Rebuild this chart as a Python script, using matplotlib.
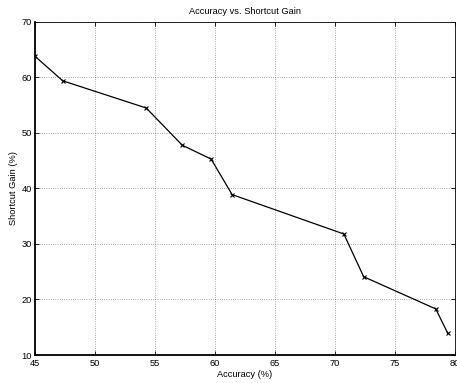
#!/usr/bin/env python3

import matplotlib
matplotlib.use('Agg')
import matplotlib.pyplot as plt

# values
accuracy = [45.0, 47.35, 54.3, 57.3, 59.7, 61.45, 70.75, 72.4, 78.4, 79.4]
shortcut_gain = [63.9, 59.4, 54.5, 47.8, 45.3, 38.9, 31.8, 24.1, 18.3, 13.9]
x_ticks = [45, 50, 55, 60, 65, 70, 75, 80]
y_ticks = [10, 20, 30, 40, 50, 60, 70]


def plot_gain():
    plt.rcParams['font.family'] = ['Liberation Sans', 'DejaVu Sans']
    fs = 6.7

    fig = plt.figure(figsize=(4.57, 3.83), dpi=100)
    ax = fig.add_axes([0.0755, 0.0731, 0.9201, 0.8695])

    ax.plot(accuracy, shortcut_gain, 'k-', marker='x', markersize=3.5,
            linewidth=0.9, markeredgewidth=0.8)

    ax.set_xlim(45, 80)
    ax.set_ylim(10, 70)
    ax.set_xticks(x_ticks)
    ax.set_yticks(y_ticks)
    ax.grid(True, color='k', linestyle=(0, (1, 3)), linewidth=0.4)
    ax.tick_params(direction='in', top=True, right=True, length=3,
                   width=0.6, labelsize=fs)
    ax.tick_params(axis='x', pad=3)
    ax.tick_params(axis='y', pad=2)

    for side in ['top', 'right']:
        ax.spines[side].set_linewidth(0.6)
    for side in ['left', 'bottom']:
        ax.spines[side].set_linewidth(1.3)

    ax.set_title('Accuracy vs. Shortcut Gain', fontsize=fs, pad=6)
    ax.set_xlabel('Accuracy (%)', fontsize=fs, labelpad=1.5)
    ax.set_ylabel('Shortcut Gain (%)', fontsize=fs, labelpad=2)

    fig.savefig('out.png', dpi=100)


if __name__ == '__main__':
    plot_gain()
